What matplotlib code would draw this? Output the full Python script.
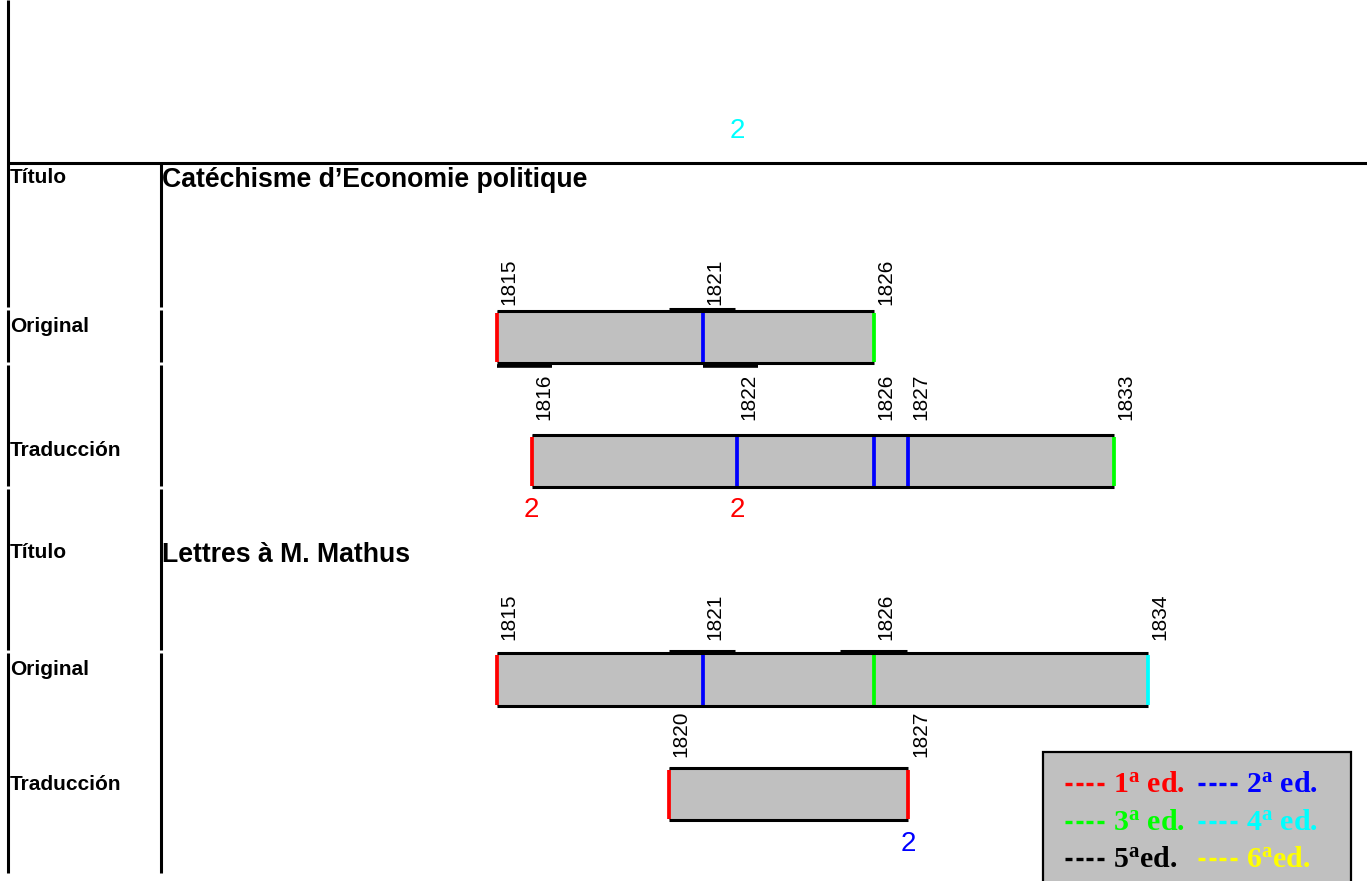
import matplotlib
matplotlib.use('Agg')
import matplotlib.pyplot as plt
import matplotlib.transforms as mtransforms
from matplotlib.patches import Rectangle

plt.rcParams['font.family'] = ['Liberation Sans', 'DejaVu Sans']
plt.rcParams['mathtext.fontset'] = 'custom'
plt.rcParams['mathtext.rm'] = 'Liberation Serif:bold'
plt.rcParams['mathtext.bf'] = 'Liberation Serif:bold'
plt.rcParams['mathtext.it'] = 'Liberation Serif:bold'

########################################
#########   data
########################################

ed_colors = ['#ff0000', '#0000ff', '#00ff00', '#00ffff', '#000000', '#ffff00']

titles = ["Catéchisme d’Economie politique", "Lettres à M. Mathus"]

# Catechisme
cat_orig_years = [1815, 1821, 1826]
cat_orig_eds = [1, 2, 3]
cat_trad_years = [1816, 1822, 1826, 1827, 1833]
cat_trad_eds = [1, 2, 2, 2, 3]

# Lettres
let_orig_years = [1815, 1821, 1826, 1834]
let_orig_eds = [1, 2, 3, 4]
let_trad_years = [1820, 1827]
let_trad_eds = [1, 1]

# the small numbers written under some marks
cat_trad_count_years = [1816, 1822]
cat_trad_counts = [2, 2]
cat_trad_count_eds = [1, 1]
let_trad_count_years = [1827]
let_trad_counts = [2]
let_trad_count_eds = [2]
stray_count_year = 1822   # left over at the top of the page
stray_count = 2
stray_count_ed = 4

# little raised / lowered border pieces left in the drawing
cat_orig_bumps = [1821]
let_orig_bumps = [1821, 1826]
cat_orig_underlines = [1815, 1821]

legend_labels = [r'1$^{\mathbf{a}}$ ed.', r'2$^{\mathbf{a}}$ ed.', r'3$^{\mathbf{a}}$ ed.',
                 r'4$^{\mathbf{a}}$ ed.', r'5$^{\mathbf{a}}$ed.', r'6$^{\mathbf{a}}$ed.']

########################################
#########   figure
########################################

fig = plt.figure(figsize=(13.67, 8.81), dpi=100)

# layout axes in pixels, data axes in years (same box)
lay = fig.add_axes([0, 0, 1, 1])
lay.set_xlim(0, 1367)
lay.set_ylim(881, 0)
lay.axis('off')

ax = fig.add_axes([0, 0, 1, 1])
ax.set_xlim(1800.49, 1840.38)
ax.set_ylim(881, 0)
ax.axis('off')
ax.patch.set_alpha(0)

shift = mtransforms.offset_copy(ax.transData, fig=fig, x=12, y=0, units='dots')

# table frame
lay.plot([8, 1367], [163, 163], color='black', lw=2.2, solid_capstyle='butt')
segs = [(0, 307), (310, 362), (365, 486), (489, 650), (653, 873)]
for a, b in segs:
    lay.plot([8, 8], [a, b], color='black', lw=2.2, solid_capstyle='butt')
    lay.plot([160.5, 160.5], [max(a, 163), b], color='black', lw=2.2, solid_capstyle='butt')

# row labels
row_lab = [('Título', 183), ('Original', 332), ('Traducción', 456),
           ('Título', 558), ('Original', 675), ('Traducción', 790)]
for s, yb in row_lab:
    lay.text(10, yb, s, fontsize=15, fontweight='bold', va='baseline', ha='left')

lay.text(162, 187, titles[0], fontsize=19.2, fontweight='bold', va='baseline')
lay.text(162, 562, titles[1], fontsize=19.2, fontweight='bold', va='baseline')


def draw_bar(years, eds, top, bot, gap):
    a, b = min(years), max(years)
    ax.add_patch(Rectangle((a, top), b - a, bot - top, facecolor='#c0c0c0',
                           edgecolor='none', zorder=1))
    ax.hlines([top, bot], a, b, colors='black', lw=2.2, capstyle='butt', zorder=3)
    for yr, ed in zip(years, eds):
        ax.vlines(yr, top + 1.5, bot - 1.5, colors=ed_colors[ed - 1], lw=2.7,
                  capstyle='butt', zorder=2)
        ax.text(yr, top - gap, str(yr), rotation=90, ha='center', va='bottom',
                fontsize=15, transform=shift)


draw_bar(cat_orig_years, cat_orig_eds, 311, 363, 6)
draw_bar(cat_trad_years, cat_trad_eds, 435, 487, 15)
draw_bar(let_orig_years, let_orig_eds, 653, 706, 13)
draw_bar(let_trad_years, let_trad_eds, 768, 820, 11)

for yr in cat_orig_bumps:
    ax.hlines(308.5, yr - 1, yr + 0.95, colors='black', lw=2.2, capstyle='butt', zorder=3)
for yr in let_orig_bumps:
    ax.hlines(650.5, yr - 1, yr + 0.95, colors='black', lw=2.2, capstyle='butt', zorder=3)
for yr in cat_orig_underlines:
    ax.hlines(366, yr, yr + 1.6, colors='black', lw=2.6, capstyle='butt', zorder=3)

# counts
for yr, c, ed in zip(cat_trad_count_years, cat_trad_counts, cat_trad_count_eds):
    ax.text(yr, 510, str(c), color=ed_colors[ed - 1], fontsize=20, ha='center', va='center')
for yr, c, ed in zip(let_trad_count_years, let_trad_counts, let_trad_count_eds):
    ax.text(yr, 844, str(c), color=ed_colors[ed - 1], fontsize=20, ha='center', va='center')
ax.text(stray_count_year, 131, str(stray_count), color=ed_colors[stray_count_ed - 1],
        fontsize=20, ha='center', va='center')

# legend box
lay.add_patch(Rectangle((1043, 752), 308, 150, facecolor='#c0c0c0', edgecolor='black',
                        lw=1.6, zorder=4))
for i, lab in enumerate(legend_labels):
    col = i % 2
    row = i // 2
    x = 1064 + col * 133
    y = 792 + row * 37.5
    # dashes drawn as short thick segments
    for k in range(4):
        lay.plot([x + 1 + k * 10.5, x + 8 + k * 10.5], [y - 8, y - 8], color=ed_colors[i],
                 lw=2.4, solid_capstyle='butt', zorder=5)
    lay.text(x + 49, y, lab, color=ed_colors[i],
             fontsize=21.5, fontweight='bold', family='Liberation Serif',
             va='baseline', ha='left', zorder=5)

fig.savefig('out.png', dpi=100)
